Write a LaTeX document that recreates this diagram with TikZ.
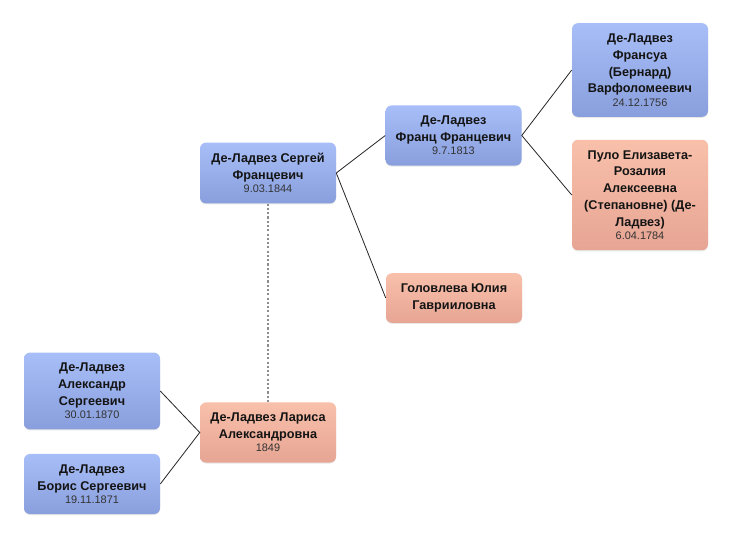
\documentclass[tikz,border=0pt]{standalone}
\usepackage{fontspec}
\setmainfont{Liberation Sans}
\usepackage{xcolor}
\usetikzlibrary{shadows}

\definecolor{maletop}{RGB}{168,190,248}
\definecolor{malebot}{RGB}{137,159,221}
\definecolor{femtop}{RGB}{248,192,170}
\definecolor{fembot}{RGB}{231,165,148}

\tikzset{
	person/.style={rounded corners=4.5pt, minimum width=102pt, align=center, inner xsep=4pt, inner ysep=8pt,
		font=\bfseries\fontsize{9.5}{12.6}\selectfont, text=black!92,
		drop shadow={opacity=0.18, shadow xshift=0pt, shadow yshift=-0.8pt}},
	male/.style={person, top color=maletop, bottom color=malebot},
	female/.style={person, top color=femtop, bottom color=fembot},
	link/.style={draw=black!85, line width=0.6pt},
	spouse/.style={draw=black!45, line width=1.3pt, dash pattern=on 1.6pt off 1.6pt}
}
\newcommand{\born}[1]{{\mdseries\fontsize{8.2}{9}\selectfont\color{black!80}#1}}

\begin{document}
\begin{tikzpicture}[x=0.75pt, y=-0.75pt]
			\useasboundingbox[fill=white] (0,0) rectangle (732,539);
			\node[male] (sergei) at (268,173) {Де-Ладвез Сергей\\Францевич\\[-2.8pt]\born{9.03.1844}};
			\node[male] (franz) at (453.5,135.5) {Де-Ладвез\\Франц Францевич\\[-2.8pt]\born{9.7.1813}};
			\node[female] (golovleva) at (454,298) {Головлева Юлия\\Гаврииловна};
			\node[male] (francois) at (640,70) {Де-Ладвез\\Франсуа\\(Бернард)\\Варфоломеевич\\[-2.8pt]\born{24.12.1756}};
			\node[female] (pulo) at (640,195) {Пуло Елизавета-\\Розалия\\Алексеевна\\(Степановне) (Де-\\Ладвез)\\[-2.8pt]\born{6.04.1784}};
			\node[female] (larisa) at (268,432.5) {Де-Ладвез Лариса\\Александровна\\[-2.8pt]\born{1849}};
			\node[male] (alexandr) at (92,391) {Де-Ладвез\\Александр\\Сергеевич\\[-2.8pt]\born{30.01.1870}};
			\node[male] (boris) at (92,484) {Де-Ладвез\\Борис Сергеевич\\[-2.8pt]\born{19.11.1871}};
			\draw[link] (franz.west) -- (sergei.east) -- (golovleva.west);
			\draw[link] (francois.west) -- (franz.east) -- (pulo.west);
			\draw[link] (alexandr.east) -- (larisa.west) -- (boris.east);
			\draw[spouse] (sergei.south) -- (larisa.north);
		\end{tikzpicture}
\end{document}
